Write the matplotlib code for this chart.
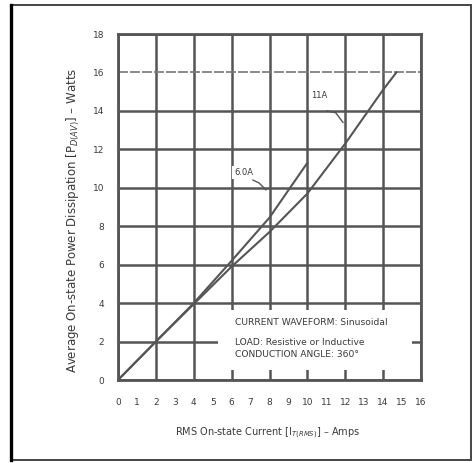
import matplotlib
matplotlib.use("Agg")
import matplotlib.pyplot as plt
from matplotlib.patches import Rectangle
from matplotlib.lines import Line2D

# RMS on-state current (A) vs average on-state power dissipation (W)
current_a = [0, 2, 4, 6, 8, 10]
power_a = [0, 2.0, 4.0, 6.2, 8.45, 11.3]
current_b = [0, 2, 4, 6, 8, 10, 12, 14, 14.7]
power_b = [0, 2.0, 3.95, 5.9, 7.7, 9.7, 12.3, 15.1, 16.0]
label_a = "6.0A"
label_b = "11A"

x_ticks = list(range(0, 17))
y_ticks = list(range(0, 19, 2))
notes = ["CURRENT WAVEFORM: Sinusoidal",
         "LOAD: Resistive or Inductive",
         "CONDUCTION ANGLE: 360\u00b0"]

INK = "#555555"
TXT = "#3a3a3a"

fig = plt.figure(figsize=(4.75, 4.63), dpi=100)
fig.patch.set_facecolor("white")

# page frame
fig.add_artist(Rectangle((11 / 475, 1 - 460 / 463), 460 / 475, 455 / 463,
                         transform=fig.transFigure, fill=False,
                         ec="#444444", lw=1.4))
fig.add_artist(Line2D([11 / 475, 11 / 475], [1 - 460 / 463, 1 - 5 / 463],
                      transform=fig.transFigure, color="black", lw=2.4))

ax = fig.add_axes([118 / 475, 1 - 380 / 463, 303 / 475, 346 / 463])
ax.set_xlim(0, 16)
ax.set_ylim(0, 18)

ax.set_xticks([t for t in x_ticks if t % 2 == 0])
ax.set_xticks([t for t in x_ticks if t % 2 == 1], minor=True)
ax.set_xticklabels([str(t) for t in x_ticks if t % 2 == 0])
ax.set_xticklabels([str(t) for t in x_ticks if t % 2 == 1], minor=True)
ax.set_yticks(y_ticks)
ax.set_yticklabels([str(t) for t in y_ticks])
ax.tick_params(which="both", length=0, labelsize=6.5, labelcolor=TXT)
ax.tick_params(axis="x", which="both", pad=13)
ax.tick_params(axis="y", pad=10)

ax.set_axisbelow(True)
ax.grid(True, which="major", color=INK, lw=1.8)
g16 = ax.get_ygridlines()[8]
g16.set_linewidth(1.2)
g16.set_color("#777777")
g16.set_dashes([6, 1.2])
for s in ax.spines.values():
    s.set_color(INK)
    s.set_linewidth(2.0)

ax.plot(current_a, power_a, color=INK, lw=1.5, zorder=3)
ax.plot(current_b, power_b, color=INK, lw=1.5, zorder=3)

# curve labels with leaders
ax.text(6.65, 10.8, label_a, fontsize=6, color=TXT, ha="center", va="center",
        zorder=4, bbox=dict(fc="white", ec="none", pad=1.5))
ax.plot([7.13, 7.45, 7.81], [10.4, 10.25, 9.89], color=INK, lw=1.0, zorder=4)
ax.text(10.6, 14.8, label_b, fontsize=6, color=TXT, ha="center", va="center",
        zorder=4, bbox=dict(fc="white", ec="none", pad=1.5))
ax.plot([11.03, 11.5, 11.88], [14.0, 13.9, 13.4], color=INK, lw=1.0, zorder=4)

# conditions box
ax.add_patch(Rectangle((5.3, 0.5), 10.2, 3.12, fc="white", ec="none",
                       zorder=2.5))
for yv, s in zip([2.97, 1.93, 1.33], notes):
    ax.text(6.18, yv, s, fontsize=6.6, color=TXT, ha="left", va="center",
            zorder=4)

ax.set_xlabel("RMS On-state Current [I$_{T(RMS)}$] \u2013 Amps",
              fontsize=7, color=TXT, va="center")
ax.xaxis.set_label_coords(0.495, -0.153)
ax.set_ylabel("Average On-state Power Dissipation [P$_{D(AV)}$] \u2013 Watts",
              fontsize=8.5, color=TXT, va="center")
ax.yaxis.set_label_coords(-0.148, 0.462)

fig.savefig("out.png", dpi=100, facecolor="white")
